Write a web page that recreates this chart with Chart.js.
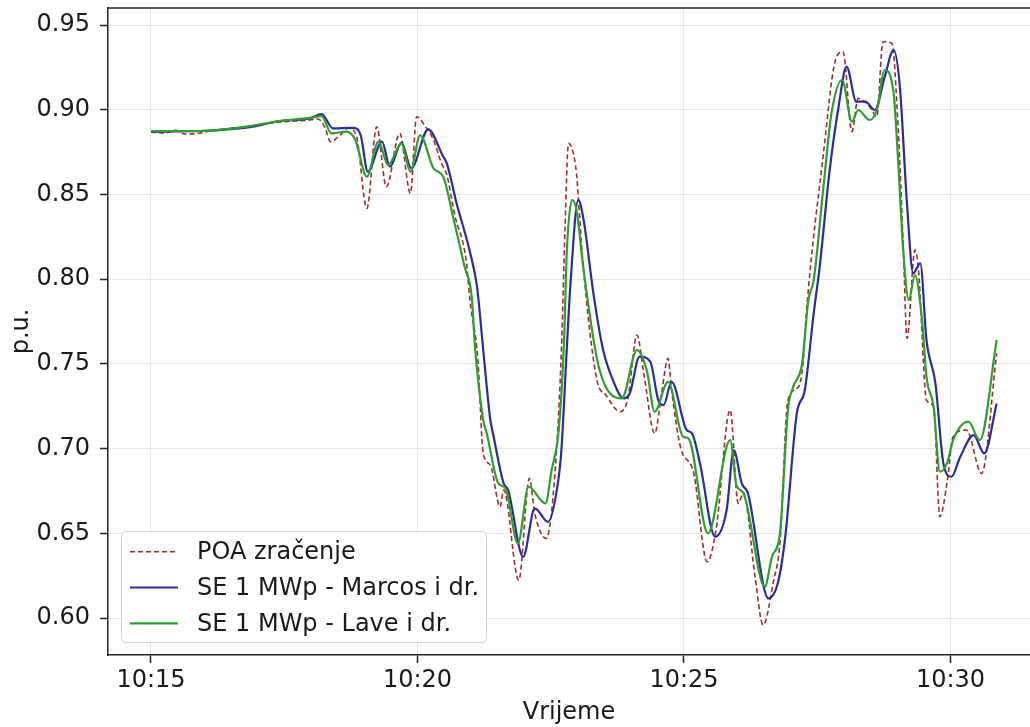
<!DOCTYPE html>
<html>
<head>
<meta charset="utf-8">
<script src="https://cdn.jsdelivr.net/npm/chart.js@4/dist/chart.umd.min.js"></script>
<style>
  html, body { margin: 0; padding: 0; background: #ffffff; }
  #wrap { width: 1030px; height: 727px; overflow: hidden; }
</style>
</head>
<body>
<div id="wrap"><canvas id="c" width="1030" height="727"></canvas></div>
<script>
// ---- Data (seconds after 10:15:00) ----
const seriesLabels = ['POA zračenje', 'SE 1 MWp - Marcos i dr.', 'SE 1 MWp - Lave i dr.'];

const poaSec = [0,16,27,38,55,72,95,111,128,145,162,179,188,196,202,213,222,231,243,254,265,280,292,299,309,318,327,333,342,355,359,368,374,382,393,397,414,426,432,445,455,462,466,470,479,481,486,502,512,528,537,547,555,567,575,582,586,596,611,626,636,652,661,667,680,689,701,708,717,729,734,738,757,770,779,789,796,809,817,824,834,841,847,851,860,864,873,881,888,896,903,918,935,952];
const poaVals = [0.8869,0.8863,0.8881,0.8857,0.8863,0.8881,0.8893,0.8898,0.8916,0.8928,0.8934,0.8940,0.8946,0.8893,0.8812,0.8851,0.8891,0.8851,0.8418,0.8900,0.8546,0.8861,0.8507,0.8959,0.8900,0.8822,0.8684,0.8615,0.8379,0.8102,0.7877,0.7523,0.6972,0.6903,0.6657,0.6756,0.6224,0.6825,0.6618,0.6470,0.6874,0.7582,0.8290,0.8802,0.8625,0.8487,0.8113,0.7405,0.7317,0.7218,0.7299,0.7671,0.7435,0.7090,0.7336,0.7533,0.7346,0.7011,0.6854,0.6332,0.6519,0.7228,0.6677,0.6736,0.6244,0.5959,0.6224,0.6443,0.7287,0.7365,0.7504,0.7818,0.8743,0.9284,0.9343,0.8871,0.9068,0.9018,0.8959,0.9402,0.9393,0.8900,0.8172,0.7651,0.8172,0.8054,0.7287,0.7247,0.6598,0.6795,0.7070,0.7110,0.6854,0.7563];

const marcosSec = [0,55,111,145,179,192,205,227,236,244,260,269,282,293,312,329,333,344,359,367,374,382,385,397,402,419,432,447,458,462,468,472,481,487,498,509,520,532,539,550,562,571,577,586,603,609,618,635,648,656,665,672,695,706,714,727,736,746,753,764,774,783,794,804,815,826,836,843,851,858,866,873,883,892,901,911,926,938,952];
const marcosVals = [0.8871,0.8875,0.8898,0.8934,0.8949,0.8975,0.8891,0.8894,0.8851,0.8635,0.8812,0.8664,0.8806,0.8655,0.8885,0.8723,0.8684,0.8448,0.8162,0.7956,0.7582,0.7169,0.7090,0.6795,0.6756,0.6362,0.6648,0.6568,0.6795,0.6992,0.7582,0.7956,0.8468,0.8350,0.7917,0.7582,0.7405,0.7297,0.7327,0.7543,0.7513,0.7287,0.7257,0.7395,0.7110,0.7090,0.6913,0.6480,0.6638,0.6992,0.6795,0.6736,0.6116,0.6214,0.6480,0.7208,0.7346,0.7799,0.8084,0.8645,0.9018,0.9255,0.9048,0.9048,0.8999,0.9195,0.9353,0.9136,0.8448,0.8035,0.8094,0.7641,0.7386,0.6913,0.6834,0.6952,0.7080,0.6972,0.7267];

const laveSec = [0,55,111,145,179,192,203,220,230,243,256,267,282,292,303,318,329,340,353,361,365,374,378,391,399,413,425,444,451,459,465,468,474,479,487,504,530,547,558,567,582,599,605,627,652,659,667,691,699,708,717,723,733,740,746,757,766,778,789,796,809,817,826,836,841,847,853,860,868,873,881,888,896,903,920,933,952];
const laveVals = [0.8875,0.8875,0.8904,0.8934,0.8952,0.8963,0.8861,0.8871,0.8822,0.8605,0.8812,0.8674,0.8802,0.8635,0.8851,0.8655,0.8605,0.8369,0.8074,0.7897,0.7582,0.7169,0.7090,0.6795,0.6766,0.6441,0.6775,0.6677,0.6874,0.7110,0.7641,0.8153,0.8468,0.8409,0.8054,0.7484,0.7297,0.7582,0.7464,0.7218,0.7395,0.7070,0.7061,0.6500,0.7051,0.6785,0.6736,0.6185,0.6362,0.6500,0.7228,0.7365,0.7504,0.7877,0.7995,0.8546,0.8979,0.9176,0.8930,0.8999,0.8940,0.8999,0.9235,0.9097,0.8704,0.8153,0.7877,0.8025,0.7759,0.7424,0.7247,0.6864,0.6913,0.7051,0.7159,0.7051,0.7641];

const xTickSec = [0, 300, 600, 900];
const xTickLabels = ['10:15', '10:20', '10:25', '10:30'];
const yTickVals = [0.60, 0.65, 0.70, 0.75, 0.80, 0.85, 0.90, 0.95];

// ---- helpers ----
const zip = (xs, ys) => xs.map((x, i) => ({ x: x, y: ys[i] }));
const FONT = "'DejaVu Sans', 'Liberation Sans', sans-serif";
const TEXT = '#1a1a1a';
const FS = 24;

Chart.defaults.font.family = FONT;
Chart.defaults.font.size = FS;
Chart.defaults.color = TEXT;

const topSpine = {
  id: 'topSpine',
  afterDraw(chart) {
    const { ctx, chartArea } = chart;
    ctx.save();
    ctx.strokeStyle = '#222';
    ctx.lineWidth = 1.5;
    ctx.beginPath();
    ctx.moveTo(chartArea.left - 0.75, chartArea.top);
    ctx.lineTo(chartArea.right + 2, chartArea.top);
    ctx.stroke();
    ctx.restore();
  }
};

const boxLegend = {
  id: 'boxLegend',
  afterDraw(chart) {
    const { ctx } = chart;
    const x0 = 121.5, y0 = 531.5, w = 365, h = 111, r = 5;
    ctx.save();
    ctx.beginPath();
    ctx.moveTo(x0 + r, y0);
    ctx.lineTo(x0 + w - r, y0);
    ctx.quadraticCurveTo(x0 + w, y0, x0 + w, y0 + r);
    ctx.lineTo(x0 + w, y0 + h - r);
    ctx.quadraticCurveTo(x0 + w, y0 + h, x0 + w - r, y0 + h);
    ctx.lineTo(x0 + r, y0 + h);
    ctx.quadraticCurveTo(x0, y0 + h, x0, y0 + h - r);
    ctx.lineTo(x0, y0 + r);
    ctx.quadraticCurveTo(x0, y0, x0 + r, y0);
    ctx.closePath();
    ctx.fillStyle = 'rgba(255,255,255,0.8)';
    ctx.fill();
    ctx.strokeStyle = '#d0d0d0';
    ctx.lineWidth = 1;
    ctx.stroke();

    chart.data.datasets.forEach((ds, i) => {
      const yy = 551.7 + i * 35.8;
      ctx.beginPath();
      ctx.setLineDash(ds.borderDash || []);
      ctx.strokeStyle = ds.borderColor;
      ctx.lineWidth = ds.borderWidth;
      ctx.moveTo(130, yy);
      ctx.lineTo(178, yy);
      ctx.stroke();
      ctx.setLineDash([]);
      ctx.fillStyle = TEXT;
      ctx.font = FS + 'px ' + FONT;
      ctx.textAlign = 'left';
      ctx.textBaseline = 'middle';
      ctx.fillText(ds.label, 197, yy + 1);
    });
    ctx.restore();
  }
};

new Chart(document.getElementById('c'), {
  type: 'line',
  data: {
    datasets: [
      { label: seriesLabels[0], data: zip(poaSec, poaVals), borderColor: '#a52a2a', borderWidth: 1.6, borderDash: [5, 3], order: 3 },
      { label: seriesLabels[1], data: zip(marcosSec, marcosVals), borderColor: '#2a2aa5', borderWidth: 2.2, order: 2 },
      { label: seriesLabels[2], data: zip(laveSec, laveVals), borderColor: '#2ca02c', borderWidth: 2.2, order: 1 }
    ]
  },
  options: {
    responsive: false,
    animation: false,
    devicePixelRatio: 1,
    layout: { padding: { top: 8, right: 0, bottom: 0, left: 0 } },
    elements: {
      point: { radius: 0 },
      line: { cubicInterpolationMode: 'monotone', fill: false }
    },
    plugins: {
      legend: { display: false },
      tooltip: { enabled: false }
    },
    scales: {
      x: {
        type: 'linear',
        min: -48.4,
        max: 989.5,
        afterBuildTicks: (s) => { s.ticks = xTickSec.map(v => ({ value: v })); },
        afterFit: (s) => { s.height = 72; s.paddingLeft = 0; s.paddingRight = 0; },
        ticks: {
          autoSkip: false,
          maxRotation: 0,
          padding: 3,
          color: TEXT,
          callback: (v) => { const i = xTickSec.indexOf(v); return i >= 0 ? xTickLabels[i] : ''; }
        },
        grid: { color: '#e8e8e8', lineWidth: 1, tickLength: 8, tickColor: '#222', tickWidth: 1.5 },
        border: { color: '#222', width: 1.5 },
        title: { display: true, text: 'Vrijeme', color: TEXT, font: { size: FS }, padding: { top: 0, bottom: 0 } }
      },
      y: {
        type: 'linear',
        min: 0.5782,
        max: 0.9601,
        afterBuildTicks: (s) => { s.ticks = yTickVals.map(v => ({ value: v })); },
        afterFit: (s) => { s.width = 108; s.paddingTop = 0; s.paddingBottom = 0; },
        ticks: {
          padding: 10,
          color: TEXT,
          callback: (v) => Number(v).toFixed(2)
        },
        grid: { color: '#e8e8e8', lineWidth: 1, tickLength: 8, tickColor: '#222', tickWidth: 1.5 },
        border: { color: '#222', width: 1.5 },
        title: { display: true, text: 'p.u.', color: TEXT, font: { size: FS }, padding: { top: 7, bottom: 0 } }
      }
    }
  },
  plugins: [topSpine, boxLegend]
});
</script>
</body>
</html>
